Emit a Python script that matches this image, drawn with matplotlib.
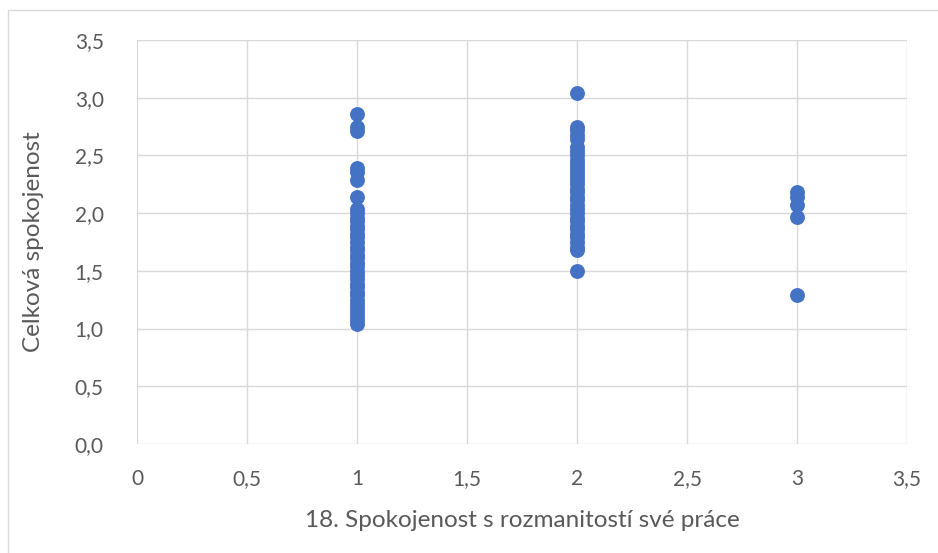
import matplotlib.pyplot as plt
from matplotlib.patches import Rectangle
from matplotlib.ticker import FuncFormatter, MultipleLocator

plt.rcParams['font.family'] = ['Lato', 'DejaVu Sans']

# satisfaction score, grouped by x category
y_at_1 = [2.86, 2.75, 2.71, 2.39, 2.36, 2.29, 2.14,
          2.04, 2.00, 1.96, 1.93, 1.89, 1.86, 1.82, 1.79, 1.75, 1.71,
          1.68, 1.64, 1.61, 1.57, 1.54, 1.50, 1.46, 1.43, 1.39, 1.36,
          1.32, 1.29, 1.25, 1.21, 1.18, 1.14, 1.11, 1.07, 1.04]
y_at_2 = [3.04, 2.75, 2.72, 2.68, 2.64, 2.57, 2.54, 2.50, 2.46, 2.43,
          2.39, 2.36, 2.32, 2.29, 2.25, 2.21, 2.18, 2.14, 2.11, 2.07,
          2.04, 2.00, 1.96, 1.93, 1.89, 1.86, 1.82, 1.79, 1.75, 1.71,
          1.68, 1.50]
y_at_3 = [2.18, 2.14, 2.07, 1.97, 1.29]

x_vals = [1] * len(y_at_1) + [2] * len(y_at_2) + [3] * len(y_at_3)
y_vals = y_at_1 + y_at_2 + y_at_3

fig = plt.figure(figsize=(9.38, 5.53), dpi=100)
ax = fig.add_axes([137 / 938, 1 - 444 / 553, 770 / 938, 404 / 553])

# outer chart frame
fig.add_artist(Rectangle((8 / 938, -0.05), 1.0, 1 - 10 / 553 + 0.05,
                         transform=fig.transFigure, fill=False,
                         edgecolor='#D9D9D9', linewidth=1))

ax.scatter(x_vals, y_vals, s=115, color='#4472C4', zorder=3, linewidths=0)

ax.set_xlim(0, 3.5)
ax.set_ylim(0, 3.5)
ax.xaxis.set_major_locator(MultipleLocator(0.5))
ax.yaxis.set_major_locator(MultipleLocator(0.5))


def comma_general(v, pos):
    if abs(v - round(v)) < 1e-9:
        return str(int(round(v)))
    return ('%g' % v).replace('.', ',')


ax.xaxis.set_major_formatter(FuncFormatter(comma_general))
ax.yaxis.set_major_formatter(FuncFormatter(lambda v, p: ('%.1f' % v).replace('.', ',')))

ax.grid(True, color='#D9D9D9', linewidth=1)
ax.set_axisbelow(True)
for s in ax.spines.values():
    s.set_visible(False)
ax.tick_params(axis='both', length=0, labelsize=15, colors='#595959')
ax.tick_params(axis='x', pad=18)
ax.tick_params(axis='y', pad=24)

ax.set_xlabel('18. Spokojenost s rozmanitostí své práce', fontsize=17.5,
              color='#595959', labelpad=15)
ax.set_ylabel('Celková spokojenost', fontsize=17.5, color='#595959',
              labelpad=22)

fig.savefig('out.png', dpi=100)
